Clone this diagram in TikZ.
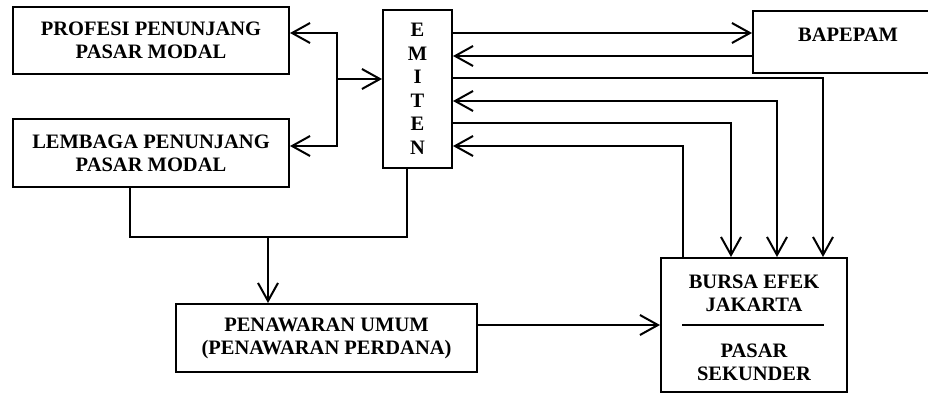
\documentclass[tikz,border=0pt]{standalone}
\usepackage{fontspec}
\setmainfont{Liberation Serif}
\usetikzlibrary{arrows.meta,positioning}

\begin{document}
\begin{tikzpicture}[x=1pt, y=-1pt, line width=2pt,
    >={Straight Barb[length=18pt,width=20pt]},
    box/.style={draw, rectangle, align=center, inner sep=0pt,
        font=\bfseries\fontsize{20.5}{23}\selectfont},
    txt/.style={align=center, inner sep=0pt,
        font=\bfseries\fontsize{20.5}{23}\selectfont}]
    \useasboundingbox (0,0) rectangle (928,394);
    % --- Boxes ---
    \node[box, minimum width=276pt, minimum height=67pt] (profesi) at (151,40.5)
        {PROFESI PENUNJANG\\PASAR MODAL};
    \node[box, minimum width=276pt, minimum height=68pt] (lembaga) at (151,153)
        {LEMBAGA PENUNJANG\\PASAR MODAL};
    \node[box, minimum width=69pt, minimum height=158pt,
        font=\bfseries\fontsize{20.5}{23.5}\selectfont] (emiten) at (417.5,89)
        {E\\M\\I\\T\\E\\N};
    \node[box, minimum width=190pt, minimum height=62pt,
        text height=14pt, text depth=15pt] (bapepam) at (848,42) {BAPEPAM};
    \node[box, minimum width=301pt, minimum height=68pt] (penawaran) at (326.5,338)
        {PENAWARAN UMUM\\(PENAWARAN PERDANA)};
    \node[box, minimum width=186pt, minimum height=134pt] (bursa) at (754,325) {};
    \node[txt] (bej) at (754,293) {BURSA EFEK\\JAKARTA};
    \node[txt] (sekunder) at (754,362) {PASAR\\SEKUNDER};
    \draw ([xshift=-72pt]bursa.center) -- ([xshift=70pt]bursa.center);
    % --- Emiten <-> profesi / lembaga ---
    \coordinate (hub) at (337,79);
    \draw[->] (hub) -- (hub -| emiten.west);
    \draw[->] (hub) |- (profesi.east |- 0,33);
    \draw[->] (hub) |- (lembaga.east |- 0,146);
    % --- Emiten <-> Bapepam ---
    \draw[->] (emiten.east |- 0,33) -- (bapepam.west |- 0,33);
    \draw[->] (bapepam.west |- 0,56) -- (emiten.east |- 0,56);
    % --- Emiten <-> Bursa ---
    \draw[->] (emiten.east |- 0,78) -| (bursa.north -| 823,0);
    \draw[<->] (emiten.east |- 0,101) -| (bursa.north -| 777,0);
    \draw[->] (emiten.east |- 0,123) -| (bursa.north -| 731,0);
    \draw[->] (bursa.north -| 683,0) |- (emiten.east |- 0,146);
    % --- Penawaran umum ---
    \coordinate (join) at (268,237);
    \draw (lembaga.south -| 130,0) |- (join) -| (emiten.south -| 407,0);
    \draw[->] (join) -- (join |- penawaran.north);
    \draw[->] (penawaran.east |- bursa.west) -- (bursa.west);
\end{tikzpicture}
\end{document}
